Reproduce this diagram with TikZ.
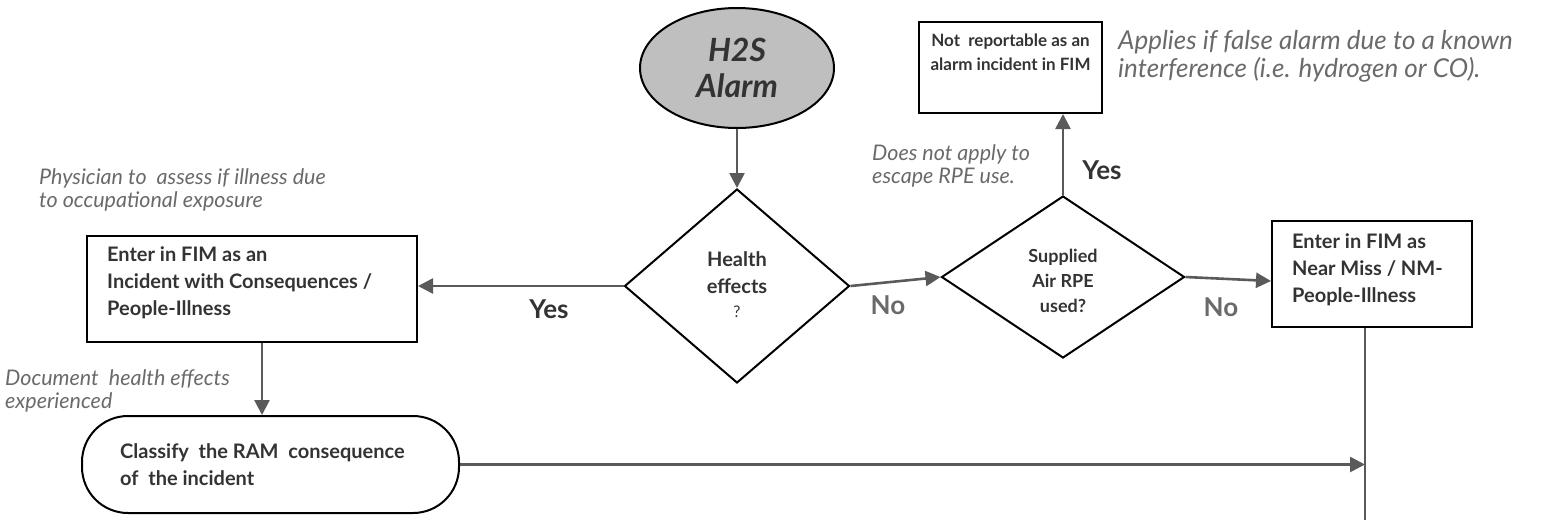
\documentclass[tikz,border=0pt]{standalone}
\usepackage{fontspec}
\setmainfont{Lato}
\usetikzlibrary{shapes.geometric,arrows.meta}
\definecolor{txt}{HTML}{333333}
\definecolor{notec}{HTML}{6A6A6A}
\definecolor{connc}{HTML}{5A5A5A}
\definecolor{fillg}{HTML}{BFBFBF}
\begin{document}
\begin{tikzpicture}[x=1pt,y=-1pt,
  shp/.style={draw=black, line width=2pt, inner sep=0pt},
  boxtxt/.style={font=\fontsize{20}{27}\selectfont\bfseries, text=txt, inner sep=0pt},
  conn/.style={draw=connc, line width=2.6pt},
  arr/.style={conn, -{Triangle[length=15pt,width=15pt]}},
  notetxt/.style={font=\fontsize{21.5}{23}\selectfont\itshape, text=notec, align=left, anchor=base west, inner sep=0pt},
  lbl/.style={font=\fontsize{26}{28}\selectfont\bfseries, inner sep=0pt}]
\useasboundingbox (0,0) rectangle (1547,520);

% shapes
\node[shp, ellipse, fill=fillg, minimum width=194, minimum height=120,
      font=\fontsize{32}{36}\selectfont\bfseries\itshape, text=txt, align=center] (alarm) at (737,68) {H2S\\Alarm};
\node[shp, diamond, aspect=1.16, minimum width=225, minimum height=194] (d1) at (737,286) {};
\node[shp, diamond, aspect=1.5, minimum width=243, minimum height=162] (d2) at (1063,277) {};
\node[shp, rectangle, minimum width=330, minimum height=106] (box1) at (252,289) {};
\node[shp, rectangle, minimum width=183, minimum height=91] (box2) at (1010.5,67.5) {};
\node[shp, rectangle, minimum width=200, minimum height=106] (box3) at (1372,274) {};
\node[shp, rectangle, rounded corners=46pt, minimum width=377, minimum height=97] (rr) at (270.5,464.5) {};

% texts of the shapes
\node[boxtxt, align=center, anchor=base] (t1) at (737,317) {Health\\effects\\[-3pt]{\mdseries\fontsize{16}{18}\selectfont ?}};
\node[boxtxt, font=\fontsize{18}{25}\selectfont\bfseries, align=center, anchor=base] (t2) at (1063,312) {Supplied\\Air RPE\\used?};
\node[boxtxt, align=left, anchor=base west] (t3) at (107,315) {Enter in FIM as an\\Incident with Consequences /\\People-Illness};
\node[boxtxt, font=\fontsize{17}{24}\selectfont\bfseries, align=center, anchor=base] (t4) at (1010.5,70) {Not\ \ reportable as an\\alarm incident in FIM};
\node[boxtxt, align=left, anchor=base west] (t5) at (1292,302) {Enter in FIM as\\Near Miss / NM-\\People-Illness};
\node[boxtxt, align=left, anchor=base west] (t6) at (120,485) {Classify\ \ the RAM\ \ consequence\\of\ \ the incident};

% connectors
\coordinate (vb) at (1365,520);
\draw[arr] (alarm.south) -- (d1.north);
\draw[arr] (d1.west) -- (d1.west -| box1.east);
\draw[arr] (d1.east) -- (d2.west);
\draw[arr] (d2.north) -- (d2.north |- box2.south);
\draw[arr] (d2.east) -- ([yshift=-7pt]box3.west);
\draw[arr] ([xshift=10pt]box1.south) -- ([xshift=10pt]box1.south |- rr.north);
\draw[conn] ([xshift=-7pt]box3.south) -- (vb);
\draw[arr] (rr.east) -- (rr.east -| vb);

% labels
\node[lbl, text=txt] (yes1) at (549,309) {Yes};
\node[lbl, text=notec] (no1) at (888,305) {No};
\node[lbl, text=txt] (yes2) at (1102,170) {Yes};
\node[lbl, text=notec] (no2) at (1221,307) {No};

% notes
\node[notetxt] (n1) at (39,207) {Physician to\ \ assess if illness due\\to occupational exposure};
\node[notetxt] (n2) at (5,408) {Document\ \ health effects\\experienced};
\node[notetxt] (n3) at (872,183) {Does not apply to\\escape RPE use.};
\node[notetxt, font=\fontsize{26}{28}\selectfont\itshape] (n4) at (1118,77) {Applies if false alarm due to a known\\interference (i.e. hydrogen or CO).};
\end{tikzpicture}
\end{document}
